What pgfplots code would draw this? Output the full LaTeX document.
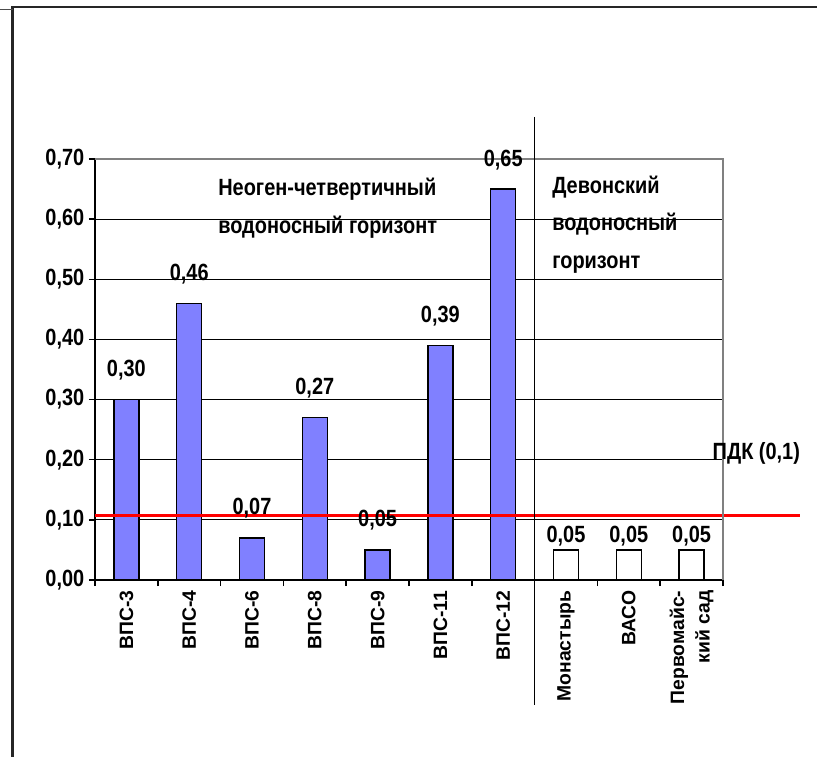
\documentclass[border=0pt]{standalone}
\usepackage{fontspec}
\setmainfont{Liberation Sans}[FakeStretch=0.85]
\newfontfamily\xfont{Liberation Sans}
\usepackage{pgfplots}
\pgfplotsset{compat=1.18}

\definecolor{barblue}{RGB}{128,128,255}

\begin{document}
\begin{tikzpicture}
  % page = 817 x 757 px, 1 px = 0.75 pt
  \path[use as bounding box] (0,0) rectangle (612.75pt,567.75pt);
  % outer frame
  \draw[black!85, line width=2pt] (9.4pt,563pt) -- (9.4pt,0);
  \draw[black!85, line width=1.6pt] (9.4pt,562.5pt) -- (612.75pt,562.5pt);
  \draw[black!70, line width=1.1pt] (0,560.6pt) -- (9.4pt,560.6pt);

  \begin{axis}[
      at={(71.25pt,132.75pt)}, anchor=south west,
      scale only axis, width=471pt, height=315.75pt,
      xmin=-0.5, xmax=9.5, ymin=0, ymax=0.7,
      clip=false,
      axis x line*=bottom, axis y line*=left,
      axis line style={-, line width=1.1pt},
      ytick={0,0.1,0.2,0.3,0.4,0.5,0.6,0.7},
      ymajorgrids, grid style={black, line width=0.8pt},
      tick align=outside, major tick length=4.5pt,
      tick style={black, line width=1.1pt},
      yticklabel style={font=\fontsize{17.6}{20}\selectfont\bfseries,
        /pgf/number format/fixed, /pgf/number format/fixed zerofill,
        /pgf/number format/precision=2, /pgf/number format/use comma,
        /pgf/number format/assume math mode=true},
      xtick={-0.5,0.5,1.5,2.5,3.5,4.5,5.5,6.5,7.5,8.5,9.5},
      x tick label as interval,
      xticklabels={ВПС-3,ВПС-4,ВПС-6,ВПС-8,ВПС-9,ВПС-11,ВПС-12,Монастырь,ВАСО,{Первомайс-\\кий сад}},
      xticklabel style={rotate=90, anchor=east, align=right,
        font=\xfont\fontsize{14.5}{19}\selectfont\bfseries},
      nodes near coords,
      nodes near coords style={/pgf/number format/fixed,
        /pgf/number format/fixed zerofill, /pgf/number format/precision=2,
        /pgf/number format/use comma, /pgf/number format/assume math mode=true},
    ]
    % Neogene-Quaternary aquifer
    \addplot[ybar, bar width=18.75pt, bar shift=0pt, fill=barblue, draw=black,
      line width=1.1pt,
      every node near coord/.append style={anchor=center, yshift=22pt,
        font=\fontsize{17.6}{20}\selectfont\bfseries}]
      coordinates {(0,0.30)(1,0.46)(2,0.07)(3,0.27)(4,0.05)(5,0.39)(6,0.65)};
    % Devonian aquifer
    \addplot[ybar, bar width=18.75pt, bar shift=0pt, fill=white, draw=black,
      line width=1.1pt,
      every node near coord/.append style={anchor=center, yshift=10.5pt,
        font=\fontsize{17.6}{20}\selectfont\bfseries}]
      coordinates {(7,0.05)(8,0.05)(9,0.05)};
    % MAC line
    \addplot[red, line width=2.25pt, no marks, nodes near coords={}]
      coordinates {(-0.5,0.107)(10.73,0.107)};

    % plot area border (top, right)
    \draw[gray, line width=1.1pt] (rel axis cs:0,1) -- (rel axis cs:1,1) -- (rel axis cs:1,0);
    % group divider
    \draw[black, line width=1.1pt] (axis cs:6.5,0.77) -- (axis cs:6.5,-0.208);

    \node[anchor=west, align=left, inner sep=0pt,
      font=\fontsize{17.6}{28.5}\selectfont\bfseries]
      at (axis cs:1.459,0.618) {Неоген-четвертичный\\водоносный горизонт};
    \node[anchor=west, align=left, inner sep=0pt,
      font=\fontsize{17.6}{28.1}\selectfont\bfseries]
      at (axis cs:6.777,0.591) {Девонский\\водоносный\\горизонт};
    \node[anchor=east, inner sep=0pt, font=\fontsize{17.6}{20}\selectfont\bfseries]
      at (axis cs:10.73,0.21) {ПДК (0,1)};
  \end{axis}
\end{tikzpicture}
\end{document}
